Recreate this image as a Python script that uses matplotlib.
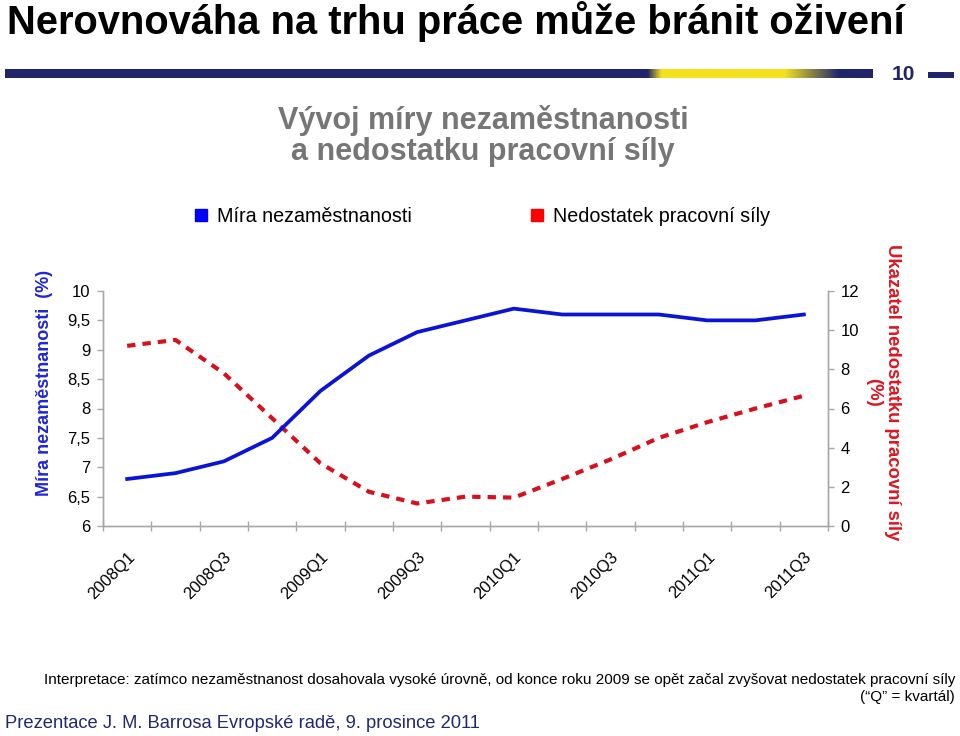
import numpy as np
import matplotlib
matplotlib.use("Agg")
import matplotlib.pyplot as plt
from matplotlib.lines import Line2D
from matplotlib.colors import LinearSegmentedColormap

plt.rcParams['font.family'] = ['Liberation Sans', 'DejaVu Sans']

# data
quarters = ['2008Q1', '2008Q2', '2008Q3', '2008Q4',
            '2009Q1', '2009Q2', '2009Q3', '2009Q4',
            '2010Q1', '2010Q2', '2010Q3', '2010Q4',
            '2011Q1', '2011Q2', '2011Q3']
nezamestnanost = [6.8, 6.9, 7.1, 7.5, 8.3, 8.9, 9.3, 9.5, 9.7, 9.6, 9.6, 9.6, 9.5, 9.5, 9.6]
nedostatek = [9.2, 9.5, 7.8, 5.5, 3.2, 1.75, 1.15, 1.5, 1.45, 2.4, 3.4, 4.5, 5.3, 6.0, 6.65]
left_ticks = [6, 6.5, 7, 7.5, 8, 8.5, 9, 9.5, 10]
right_ticks = [0, 2, 4, 6, 8, 10, 12]

blue = '#0a14d8'
red = '#d8101c'
grey = '#a8a8a8'
navy = '#1f2568'

W, H = 960, 736
fig = plt.figure(figsize=(9.6, 7.36), dpi=100)

# page header
fig.text(7/W, 1-21/H, 'Nerovnováha na trhu práce může bránit oživení',
         fontsize=28.7, weight='bold', va='center', ha='left')

# banner strip
bax = fig.add_axes([5/W, 1-78/H, (873-5)/W, 9/H])
xs = np.linspace(0, 1, 600)
px = 5 + xs*868
amt = np.clip((px-648)/14, 0, 1) * np.clip((840-px)/55, 0, 1)
cmap = LinearSegmentedColormap.from_list('b', [navy, '#f4e21e'])
bax.imshow(amt[None, :], aspect='auto', cmap=cmap, vmin=0, vmax=1)
bax.axis('off')
fig.text(903/W, 1-75/H, '10', fontsize=15, weight='bold', color=navy, ha='center', va='center')
blk = fig.add_axes([928/W, 1-78/H, 26/W, 6/H])
blk.set_facecolor(navy)
blk.set_xticks([]); blk.set_yticks([])
for s in blk.spines.values():
    s.set_visible(False)

# chart title
fig.text(483/W, 1-136/H, 'Vývoj míry nezaměstnanosti\na nedostatku pracovní síly',
         fontsize=22, weight='bold', color='#767676', ha='center', va='center', linespacing=1.05)

# axes
ax = fig.add_axes([103/W, 1-526/H, (828-103)/W, (526-291)/H])
ax2 = ax.twinx()
x = np.arange(len(quarters))

ax2.plot(x, nedostatek, color=red, lw=3.0, dashes=(2.0, 1.7), solid_capstyle='butt')
ax.plot(x, nezamestnanost, color=blue, lw=2.7)
ax.set_zorder(ax2.get_zorder()+1)
ax.patch.set_visible(False)

ax.set_xlim(-0.5, len(quarters)-0.5)
ax.set_ylim(6, 10)
ax2.set_ylim(0, 12)

for a in (ax, ax2):
    a.spines['top'].set_visible(False)
    for s in ('left', 'right', 'bottom'):
        a.spines[s].set_color(grey)
        a.spines[s].set_linewidth(1)

ax.set_yticks(left_ticks)
ax.set_yticklabels([('%g' % v).replace('.', ',') for v in left_ticks])
ax2.set_yticks(right_ticks)
ax2.set_yticklabels([str(v) for v in right_ticks])
ax.tick_params(axis='y', length=4, width=1, color=grey, pad=5, labelsize=12)
ax2.tick_params(axis='y', length=4, width=1, color=grey, pad=5, labelsize=12)

ax.set_xticks(x[::2])
ax.set_xticklabels(quarters[::2], rotation=45, ha='right', va='top', rotation_mode='anchor')
ax.set_xticks(np.arange(-0.5, len(quarters), 1), minor=True)
ax.tick_params(axis='x', which='major', length=0, pad=17, labelsize=12)
ax.tick_params(axis='x', which='minor', direction='inout', length=7, width=1, color=grey)

# axis labels
fig.text(45/W, 1-383/H, 'Míra nezaměstnanosti  (%)', rotation=90, fontsize=13,
         weight='bold', color='#1f26d6', ha='center', va='center')
fig.text(883/W, 1-392/H, 'Ukazatel nedostatku pracovní síly\n(%)', rotation=270, fontsize=13.3,
         weight='bold', color='#e0141e', ha='center', va='center', linespacing=1.2)

# legend, two entries placed separately
leg_labels = ['Míra nezaměstnanosti', 'Nedostatek pracovní síly']
leg_colors = ['#0000ff', '#ff0000']
leg_x = [193, 529]
for lab, col, lx in zip(leg_labels, leg_colors, leg_x):
    h = Line2D([], [], marker='s', ls='none', color=col, markersize=9)
    fig.legend([h], [lab], loc='center left', bbox_to_anchor=(lx/W, 1-216/H),
               frameon=False, fontsize=14.2, handlelength=0.8, handletextpad=0.4,
               borderpad=0, borderaxespad=0)

# notes
fig.text(955/W, 1-680/H, 'Interpretace: zatímco nezaměstnanost dosahovala vysoké úrovně, '
         'od konce roku 2009 se opět začal zvyšovat nedostatek pracovní síly',
         fontsize=10.95, ha='right', va='center')
fig.text(955/W, 1-697/H, '(“Q” = kvartál)', fontsize=10.95, ha='right', va='center')
fig.text(5/W, 1-723/H, 'Prezentace J. M. Barrosa Evropské radě, 9. prosince 2011',
         fontsize=13.2, color='#202a70', ha='left', va='center')

fig.savefig('out.png', dpi=100)
